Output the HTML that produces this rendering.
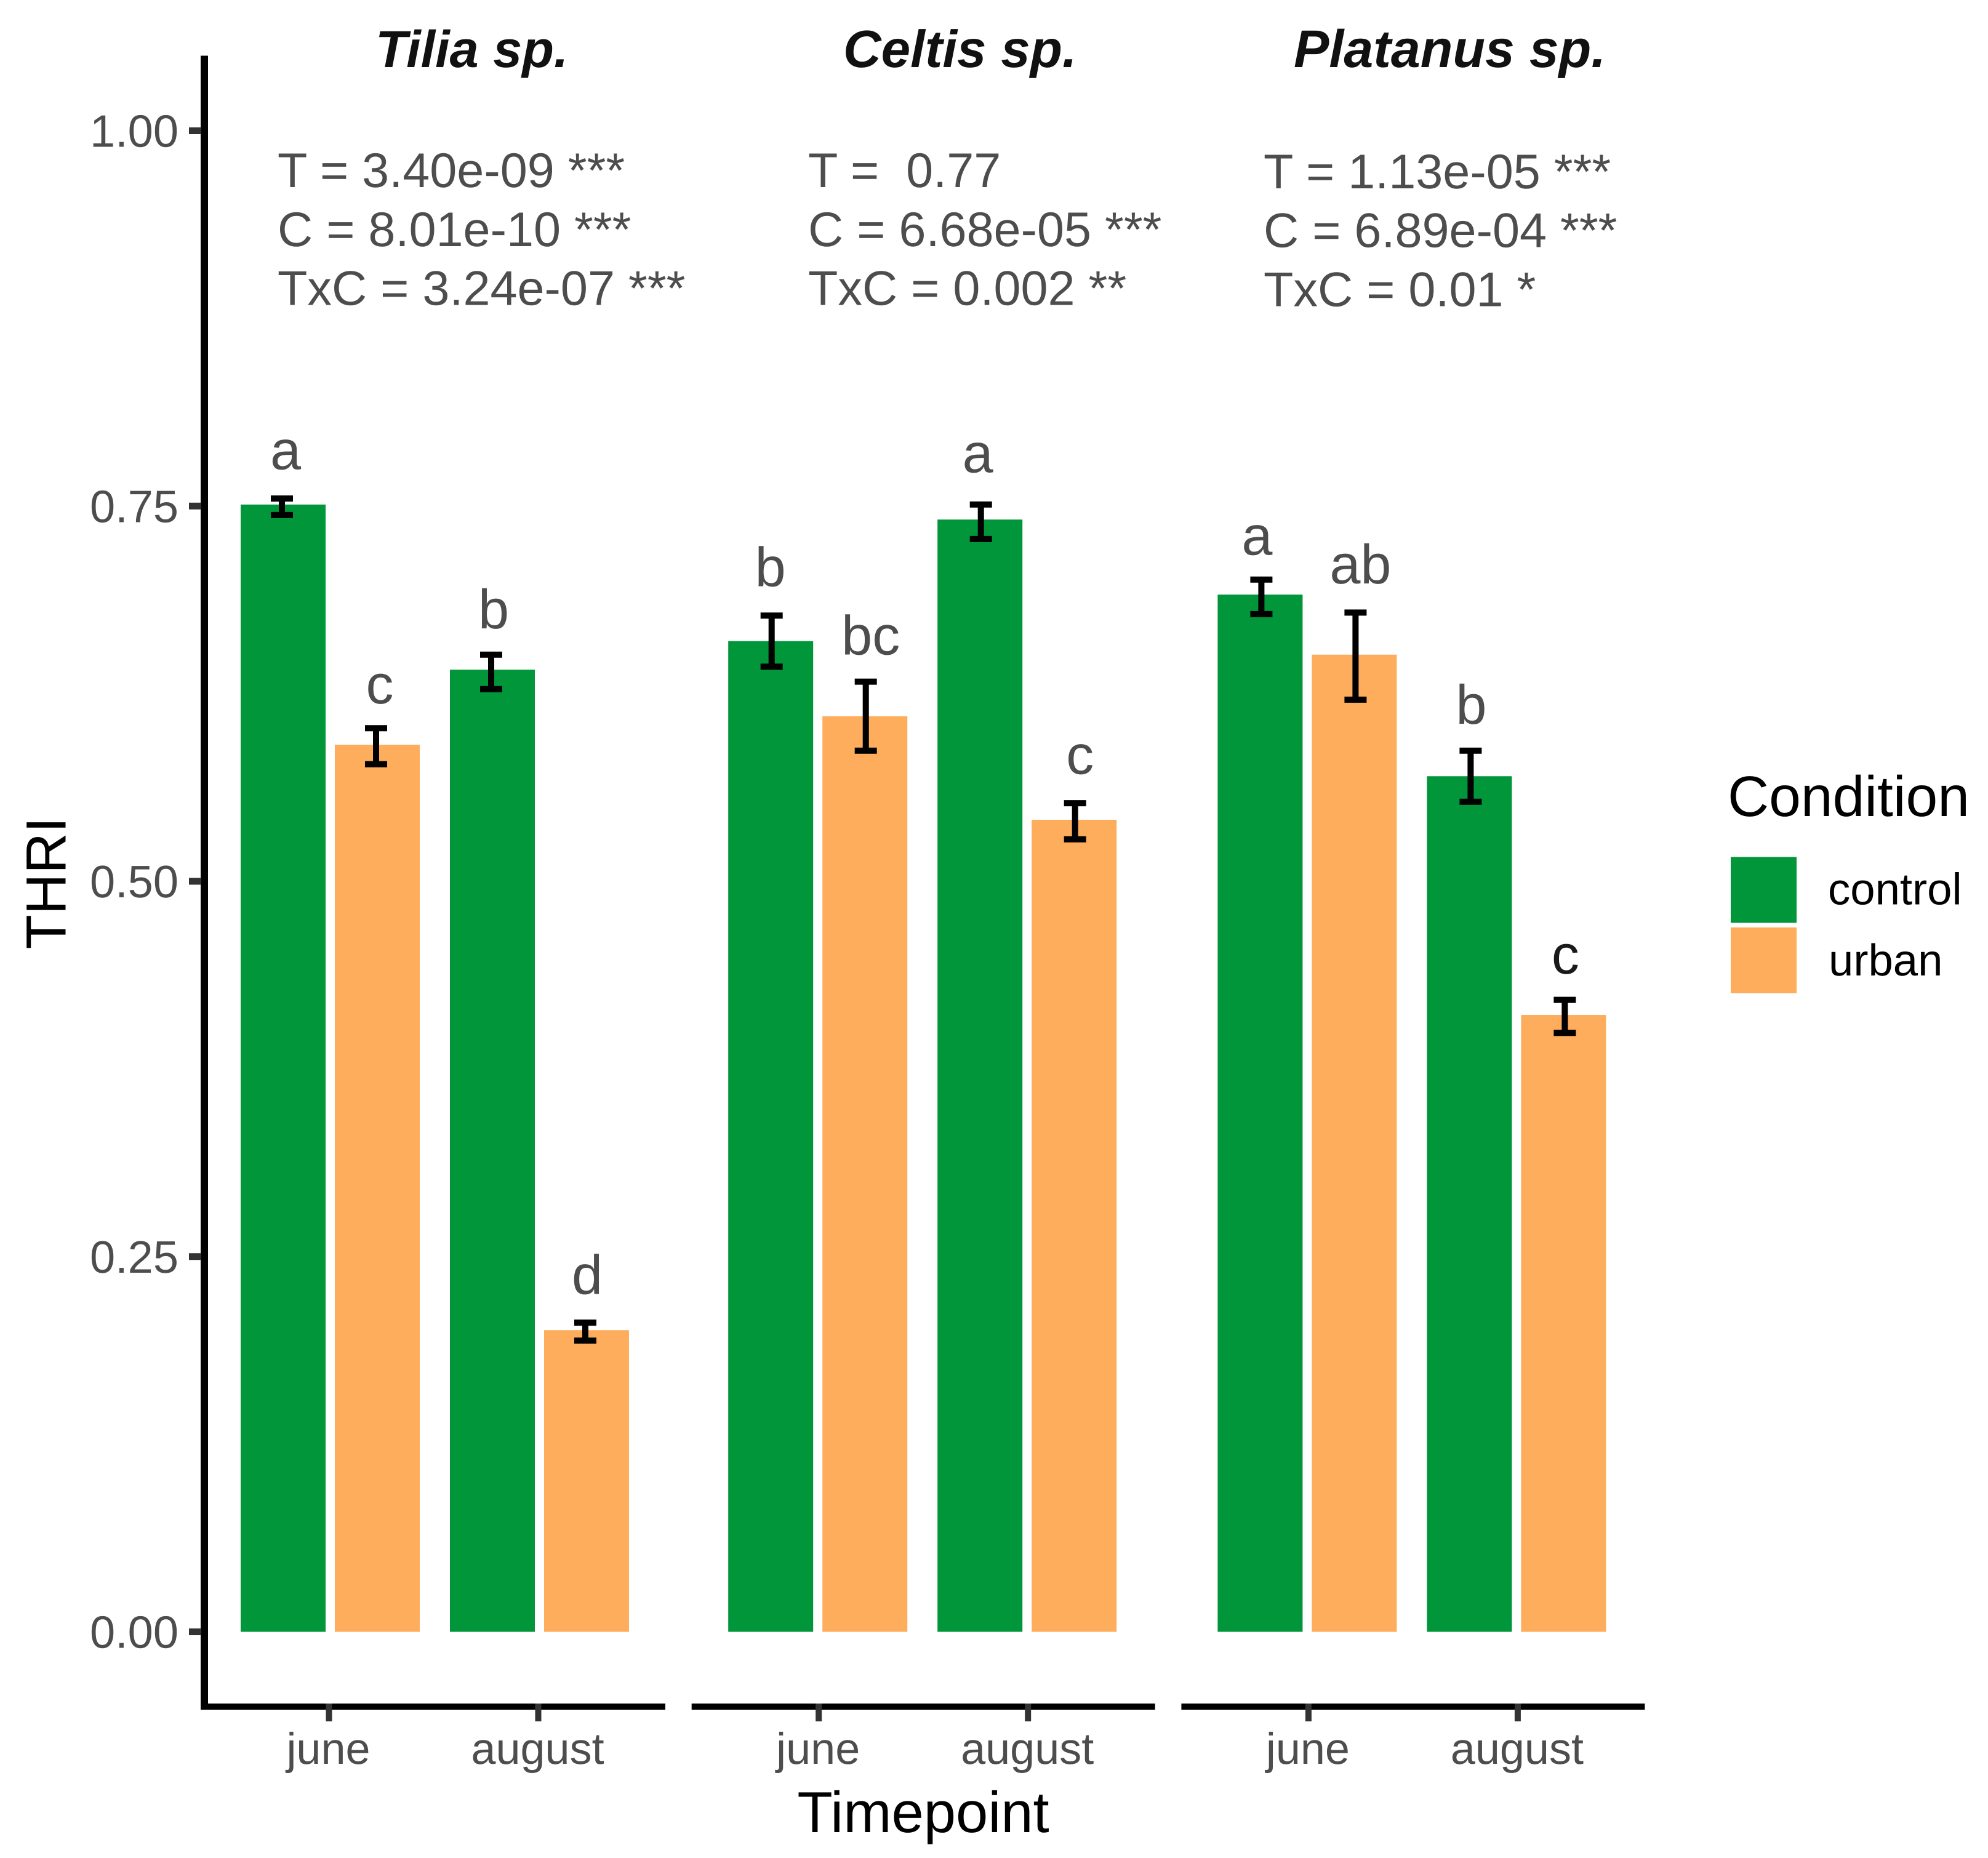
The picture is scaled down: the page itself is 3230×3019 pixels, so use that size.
<!DOCTYPE html>
<html lang="en">
<head>
<meta charset="utf-8">
<title>THRI by timepoint and condition</title>
<style>
  html, body { margin: 0; padding: 0; background: #ffffff; }
  svg { display: block; font-family: "Liberation Sans", Arial, sans-serif; text-rendering: geometricPrecision; }
</style>
</head>
<body>
<svg id="chart" xmlns="http://www.w3.org/2000/svg" width="3230" height="3019" viewBox="0 0 3230 3019">
  <rect x="0" y="0" width="3230" height="3019" fill="#ffffff"/>
  <g id="marks"></g>
  <g id="axes"></g>
  <g id="labels"></g>

  <text x="1500" y="2977" font-size="94" text-anchor="middle" fill="#000000">Timepoint</text>
  <text transform="translate(106.5 1435) rotate(-90)" font-size="92" text-anchor="middle" fill="#000000">THRI</text>

  <g>
    <text x="2807" y="1326" font-size="93" fill="#000000">Condition</text>
    <rect x="2812" y="1392.5" width="107" height="107" fill="#009639"/>
    <text x="2970" y="1469.5" font-size="72.5" fill="#000000">control</text>
    <rect x="2812" y="1507" width="107" height="107" fill="#FDAD5C"/>
    <text x="2971" y="1585" font-size="72.5" fill="#000000">urban</text>
  </g>
</svg>

<script>
// ---- data ----
const species = ["Tilia sp.", "Celtis sp.", "Platanus sp."];
const timepoints = ["june", "august"];
const conditions = ["control", "urban"];
const yTickValues = [0, 0.25, 0.5, 0.75, 1];
const yTickLabels = ["0.00", "0.25", "0.50", "0.75", "1.00"];

// one row per species; order: june-control, june-urban, august-control, august-urban
const meanTilia = [0.751, 0.591, 0.641, 0.201];
const meanCeltis = [0.660, 0.610, 0.741, 0.541];
const meanPlatanus = [0.691, 0.651, 0.570, 0.411];

const upperTilia = [0.755, 0.602, 0.651, 0.206];
const upperCeltis = [0.677, 0.633, 0.751, 0.552];
const upperPlatanus = [0.701, 0.679, 0.587, 0.421];

const lowerTilia = [0.744, 0.578, 0.628, 0.194];
const lowerCeltis = [0.643, 0.587, 0.728, 0.528];
const lowerPlatanus = [0.678, 0.621, 0.553, 0.399];

const lettersTilia = ["a", "c", "b", "d"];
const lettersCeltis = ["b", "bc", "a", "c"];
const lettersPlatanus = ["a", "ab", "b", "c"];

// height at which each significance letter's baseline sits, in THRI units
const letterLevelTilia = [0.7745, 0.6185, 0.6685, 0.225];
const letterLevelCeltis = [0.6965, 0.651, 0.7725, 0.5715];
const letterLevelPlatanus = [0.7175, 0.6985, 0.605, 0.4385];

const statsTilia = ["T = 3.40e-09 ***", "C = 8.01e-10 ***", "TxC = 3.24e-07 ***"];
const statsCeltis = ["T =  0.77", "C = 6.68e-05 ***", "TxC = 0.002 **"];
const statsPlatanus = ["T = 1.13e-05 ***", "C = 6.89e-04 ***", "TxC = 0.01 *"];

const means = [meanTilia, meanCeltis, meanPlatanus];
const uppers = [upperTilia, upperCeltis, upperPlatanus];
const lowers = [lowerTilia, lowerCeltis, lowerPlatanus];
const letters = [lettersTilia, lettersCeltis, lettersPlatanus];
const letterLevels = [letterLevelTilia, letterLevelCeltis, letterLevelPlatanus];
const stats = [statsTilia, statsCeltis, statsPlatanus];

// ---- layout ----
const NS = "http://www.w3.org/2000/svg";
const colors = { control: "#009639", urban: "#FDAD5C" };
const INK = "#4d4d4d";
const TICK = "#333333";
const Y_ZERO = 2651.5, Y_UNIT = 2439;
const PANEL_LEFT = 328, PANEL_STEP = 795.7, PANEL_W = 753;
const FIRST_CAT = 206.5, CAT_STEP = 340, DODGE = 76.5;
const BAR_W = 138, CAP_W = 36, ERR_W = 10;
const AXIS_TOP = 90.5, AXIS_Y = 2773;
const barNudge = [2, -1.5, -2];
const letterNudge = [6, 6, 4, 3, -2, 8, -5, 8, -7, 8, 1, 1];
const titleStart = [610, 1370, 2102];
const titleSize = [84.6, 85.4, 86.1];
const statStart = [451, 1313, 2053];
const statBase = [[304, 400, 495.5], [304, 400, 495.5], [306, 401.5, 497.5]];

function yScale(v) { return Y_ZERO - v * Y_UNIT; }
function panelLeft(p) { return PANEL_LEFT + p * PANEL_STEP; }
function catX(p, t) { return panelLeft(p) + FIRST_CAT + t * CAT_STEP; }
function dodgeX(p, t, c) { return catX(p, t) + (c === 0 ? -DODGE : DODGE); }

function make(tag, attrs, parent, txt) {
  const el = document.createElementNS(NS, tag);
  for (const k in attrs) el.setAttribute(k, attrs[k]);
  if (txt !== undefined) el.textContent = txt;
  parent.appendChild(el);
  return el;
}

const marks = document.getElementById("marks");
const axes = document.getElementById("axes");
const labels = document.getElementById("labels");

// ---- bars and error bars ----
species.forEach(function (sp, p) {
  timepoints.forEach(function (tp, t) {
    conditions.forEach(function (cond, c) {
      const i = t * 2 + c;
      const cx = dodgeX(p, t, c);
      const top = yScale(means[p][i]);
      const bar = make("rect", { x: cx + barNudge[p] - BAR_W / 2, y: top, width: BAR_W, height: Y_ZERO - top, fill: colors[cond] }, marks);
      
      

      const yHi = yScale(uppers[p][i]);
      const yLo = yScale(lowers[p][i]);
      const err = make("g", { stroke: "#000000", fill: "none" }, marks);
      
      
      make("line", { x1: cx, x2: cx, y1: yHi, y2: yLo, "stroke-width": ERR_W }, err);
      make("line", { x1: cx - CAP_W / 2, x2: cx + CAP_W / 2, y1: yHi, y2: yHi, "stroke-width": ERR_W }, err);
      make("line", { x1: cx - CAP_W / 2, x2: cx + CAP_W / 2, y1: yLo, y2: yLo, "stroke-width": ERR_W }, err);

      const letter = make("text", {
        x: cx + letterNudge[p * 4 + i],
        y: yScale(letterLevels[p][i]),
        "font-size": 90,
        "text-anchor": "middle",
        fill: (p === 2 && i === 3) ? "#1a1a1a" : INK
      }, labels, letters[p][i]);
      
      
    });
  });
});

// ---- y axis ----
const yLine = make("rect", { x: 326, y: AXIS_TOP, width: 12, height: AXIS_Y + 5 - AXIS_TOP, fill: "#000000" }, axes);



yTickValues.forEach(function (v, i) {
  const tick = make("rect", { x: 307, y: yScale(v) - 5.5, width: 20, height: 11, fill: TICK }, axes);
  
  
  const lab = make("text", { x: 290, y: yScale(v) + 26, "font-size": 74, "text-anchor": "end", fill: INK }, axes, yTickLabels[i]);
  
  
});

// ---- x axes, titles, stats ----
species.forEach(function (sp, p) {
  const xLine = make("rect", { x: panelLeft(p), y: AXIS_Y - 5, width: PANEL_W, height: 10, fill: "#000000" }, axes);
  
  

  timepoints.forEach(function (tp, t) {
    const tick = make("rect", { x: catX(p, t) - 5, y: AXIS_Y - 5, width: 10, height: 29, fill: TICK }, axes);
    
    
    const lab = make("text", { x: catX(p, t) - 1, y: 2866, "font-size": 72, "text-anchor": "middle", fill: INK }, axes, tp);
    
    
  });

  const title = make("text", {
    x: titleStart[p], y: 109, "font-size": titleSize[p], "font-weight": "bold", "font-style": "italic", fill: "#111111"
  }, labels, sp);
  
  

  stats[p].forEach(function (line, k) {
    const st = make("text", { x: statStart[p], y: statBase[p][k], "font-size": 79.2, fill: INK }, labels, line);
    st.setAttribute('style', 'white-space:pre');
    
    
  });
});
</script>
</body>
</html>
